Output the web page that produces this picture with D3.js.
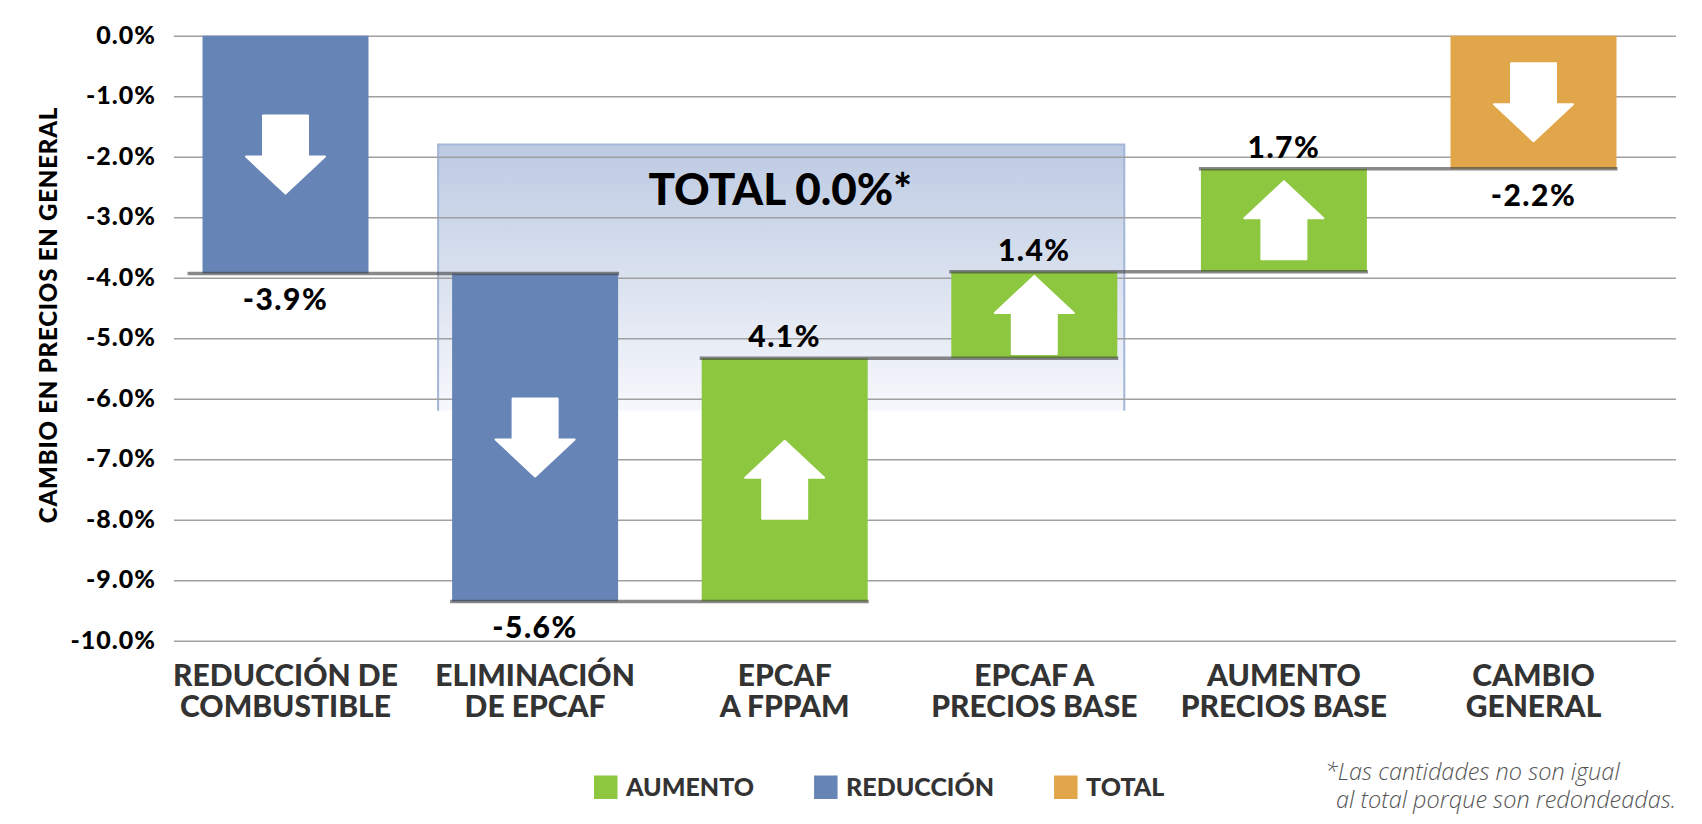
<!DOCTYPE html>
<html>
<head>
<meta charset="utf-8">
<script src="https://cdn.jsdelivr.net/npm/d3@7"></script>
<style>
  html, body { margin: 0; padding: 0; background: #fff; }
  svg { display: block; }
  text { font-family: Lato, "DejaVu Sans", sans-serif; font-weight: 900; }
</style>
</head>
<body>
<svg id="chart"></svg>
<script>
// categories (two lines each)
const categories = [
    ["REDUCCIÓN DE", "COMBUSTIBLE"],
    ["ELIMINACIÓN", "DE EPCAF"],
    ["EPCAF", "A FPPAM"],
    ["EPCAF A", "PRECIOS BASE"],
    ["AUMENTO", "PRECIOS BASE"],
    ["CAMBIO", "GENERAL"]
]
// change of every step, the last bar is the total
const deltas = [-3.93, -5.42, 4.02, 1.43, 1.70]
const barTypes = ["reduccion", "reduccion", "aumento", "aumento", "aumento", "total"]
const barLabels = ["-3.9%", "-5.6%", "4.1%", "1.4%", "1.7%", "-2.2%"]
const yTicks = [0, -1, -2, -3, -4, -5, -6, -7, -8, -9, -10]
const legendLabels = ["AUMENTO", "REDUCCIÓN", "TOTAL"]
const legendTypes = ["aumento", "reduccion", "total"]
const totalText = "TOTAL 0.0%*"
const footnote = ["*Las cantidades no son igual", "al total porque son redondeadas."]

const colors = { aumento: "#8dc63f", reduccion: "#6685b6", total: "#e1a64a" }

const width = 1702, height = 824

// build waterfall start / end values
let bars = []
let run = 0
deltas.forEach((d, i) => {
    bars.push({ i: i, start: run, end: run + d, type: barTypes[i], label: barLabels[i] })
    run += d
})
bars.push({ i: deltas.length, start: 0, end: run, type: barTypes[deltas.length], label: barLabels[deltas.length] })

const svg = d3.select("#chart")
    .attr("width", width)
    .attr("height", height)

const x = d3.scaleBand()
    .domain(d3.range(categories.length))
    .range([160.7, 1658.3])
    .paddingInner(0.335)
    .paddingOuter(0.1675)

const y = d3.scaleLinear()
    .domain([0, -10])
    .range([35.7, 640.7])

const gridLeft = 174, gridRight = 1676

// TOTAL box (behind the grid)
const defs = svg.append("defs")
const grad = defs.append("linearGradient")
    .attr("id", "boxGrad")
    .attr("x1", 0).attr("y1", 0).attr("x2", 0).attr("y2", 1)
grad.append("stop").attr("offset", "0%").attr("stop-color", "#bccae2")
grad.append("stop").attr("offset", "100%").attr("stop-color", "#f7f8fc")

const boxL = x(1) - 14, boxR = x(3) + x.bandwidth() + 7
const boxT = y(-1.8), boxB = y(-6.2)
svg.append("rect")
    .attr("x", boxL).attr("y", boxT)
    .attr("width", boxR - boxL).attr("height", boxB - boxT)
    .style("fill", "url(#boxGrad)")
svg.append("path")
    .attr("d", `M${boxL},${boxB}V${boxT}H${boxR}V${boxB}`)
    .style("fill", "none")
    .style("stroke", "#a3b6d8")
    .style("stroke-width", 2)

// grid + y tick labels
const yAxis = d3.axisLeft(y)
    .tickValues(yTicks)
    .tickSize(gridRight - gridLeft)
    .tickPadding(18)
    .tickFormat(d => (d < 0 ? "-" : "") + Math.abs(d).toFixed(1) + "%")

const gy = svg.append("g")
    .attr("transform", `translate(${gridRight},0)`)
    .call(yAxis)
gy.select(".domain").remove()
gy.selectAll(".tick line")
    .style("stroke", "#a0a0a0")
    .style("stroke-width", 1.4)
gy.selectAll(".tick text")
    .attr("dy", "0.3em")
    .style("font-family", "Lato, sans-serif")
    .style("font-weight", 900)
    .style("font-size", "25px")
    .style("letter-spacing", "1px")
    .style("fill", "#000")

// y title
svg.append("text")
    .attr("transform", "translate(57,315) rotate(-90)")
    .attr("text-anchor", "middle")
    .style("font-size", "24px")
    .style("letter-spacing", "0.8px")
    .style("fill", "#000")
    .text("CAMBIO EN PRECIOS EN GENERAL")

// TOTAL label
svg.append("text")
    .attr("x", (boxL + boxR) / 2 - 1)
    .attr("y", 205)
    .attr("text-anchor", "middle")
    .style("font-size", "44px")
    .style("fill", "#000")
    .text(totalText)

// bars
svg.selectAll("rect.bar").data(bars)
    .enter().append("rect")
    .attr("class", "bar")
    .attr("x", d => x(d.i))
    .attr("width", x.bandwidth())
    .attr("y", d => y(Math.max(d.start, d.end)))
    .attr("height", d => Math.abs(y(d.start) - y(d.end)))
    .style("fill", d => colors[d.type])

// arrows inside bars
const arrowDown = "M-22.5,-39 H22.5 V2 H39.5 L0,39 L-39.5,2 H-22.5 Z"
const arrowUp = "M-22.5,39 H22.5 V-2 H39.5 L0,-39 L-39.5,-2 H-22.5 Z"
svg.selectAll("path.arrow").data(bars)
    .enter().append("path")
    .attr("class", "arrow")
    .attr("d", d => d.end < d.start ? arrowDown : arrowUp)
    .attr("transform", d => `translate(${x(d.i) + x.bandwidth() / 2},${(y(d.start) + y(d.end)) / 2})`)
    .style("fill", "#fff")
    .style("stroke", "#fff")
    .style("stroke-width", 2)
    .style("stroke-linejoin", "round")

// connector lines
const links = bars.slice(0, bars.length - 1)
svg.selectAll("line.link").data(links)
    .enter().append("line")
    .attr("class", "link")
    .attr("x1", d => x(d.i) - (d.i === 0 ? 15 : 2))
    .attr("x2", d => x(d.i + 1) + x.bandwidth() + 1)
    .attr("y1", d => y(d.end))
    .attr("y2", d => y(d.end))
    .style("stroke", "rgba(64,64,64,0.62)")
    .style("stroke-width", 3.5)

// value labels
svg.selectAll("text.value").data(bars)
    .enter().append("text")
    .attr("class", "value")
    .attr("x", d => x(d.i) + x.bandwidth() / 2)
    .attr("y", d => d.end < d.start ? y(d.end) + 37 : y(d.end) - 11)
    .attr("text-anchor", "middle")
    .style("font-size", "30px")
    .style("letter-spacing", "1.5px")
    .style("fill", "#000")
    .text(d => d.label)

// category labels
const cat = svg.selectAll("text.cat").data(categories)
    .enter().append("text")
    .attr("class", "cat")
    .attr("text-anchor", "middle")
    .style("font-size", "30px")
    .style("fill", "#333")
cat.selectAll("tspan").data((d, i) => d.map(t => ({ t: t, i: i })))
    .enter().append("tspan")
    .attr("x", d => x(d.i) + x.bandwidth() / 2)
    .attr("y", (d, j) => 686 + j * 31)
    .text(d => d.t)

// legend
let lx = 594
legendLabels.forEach((lab, k) => {
    svg.append("rect")
        .attr("x", lx).attr("y", 775.5)
        .attr("width", 23.5).attr("height", 23.5)
        .style("fill", colors[legendTypes[k]])
    const t = svg.append("text")
        .attr("x", lx + 32)
        .attr("y", 796)
        .style("font-size", "25px")
        .style("fill", "#333")
        .text(lab)
    lx += 32 + t.node().getComputedTextLength() + 60
})

// footnote
svg.selectAll("text.note").data(footnote)
    .enter().append("text")
    .attr("class", "note")
    .attr("x", (d, i) => 1325 + i * 11)
    .attr("y", (d, i) => 780 + i * 28)
    .style("font-family", "'Open Sans', sans-serif")
    .style("font-style", "italic")
    .style("font-weight", 300)
    .style("font-size", "23.5px")
    .style("fill", "#555")
    .text(d => d)
</script>
</body>
</html>
